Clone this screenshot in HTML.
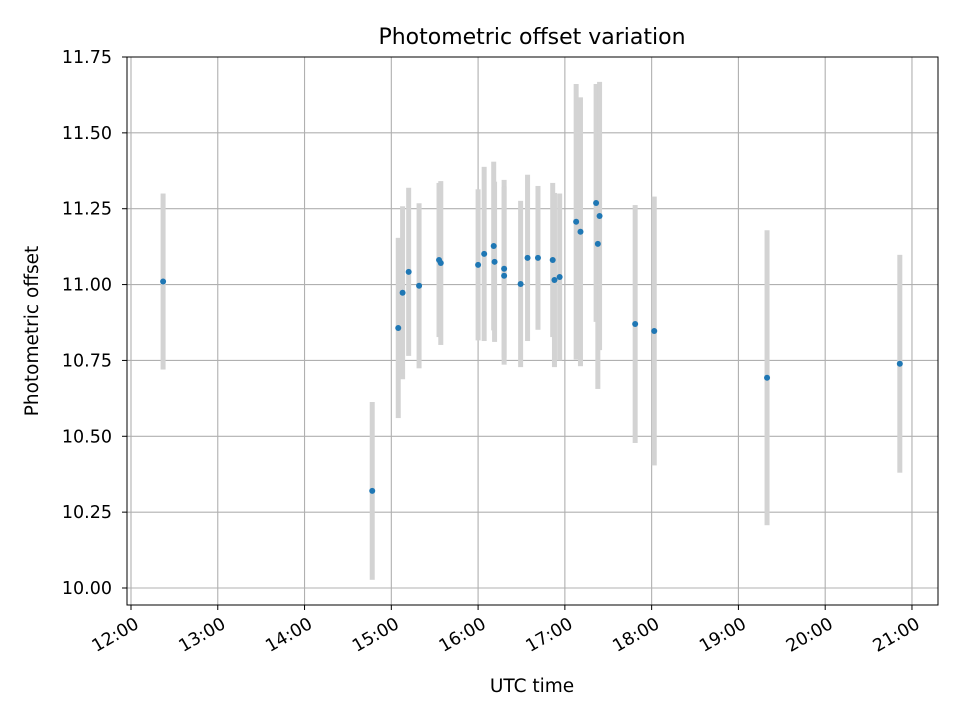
<!DOCTYPE html>
<html><head><meta charset="utf-8"><style>
body{margin:0;background:#fff;font-family:"Liberation Sans","DejaVu Sans",sans-serif}
svg text{font-family:"DejaVu Sans","Liberation Sans",sans-serif;fill:#000}
</style></head><body>
<svg id="c" width="960" height="720" xmlns="http://www.w3.org/2000/svg">
<rect width="960" height="720" fill="#fff"/>
<g id="grid"></g><g id="bars"></g><g id="pts"></g><g id="axes"></g>
<text x="532" y="44" font-size="22" text-anchor="middle">Photometric offset variation</text>
<text x="532" y="692" font-size="18.5" text-anchor="middle">UTC time</text>
<text transform="translate(38,331) rotate(-90)" font-size="18.5" text-anchor="middle">Photometric offset</text>
</svg>
<script>
const times=[12.37,14.78,15.08,15.13,15.20,15.32,15.55,15.57,16.00,16.07,16.18,16.19,16.30,16.30,16.49,16.57,16.69,16.86,16.88,16.94,17.13,17.18,17.36,17.38,17.40,17.81,18.03,19.33,20.86];
const offsets=[11.01,10.32,10.857,10.973,11.042,10.996,11.081,11.071,11.065,11.101,11.127,11.075,11.052,11.029,11.002,11.088,11.088,11.081,11.015,11.025,11.207,11.174,11.269,11.134,11.226,10.87,10.847,10.693,10.739];
const errors=[0.29,0.293,0.297,0.285,0.277,0.272,0.254,0.27,0.249,0.287,0.278,0.264,0.293,0.293,0.274,0.274,0.237,0.254,0.287,0.275,0.454,0.443,0.392,0.478,0.442,0.392,0.443,0.486,0.359];
const yTicks=[10.00,10.25,10.50,10.75,11.00,11.25,11.50,11.75];
const xTicks=[12,13,14,15,16,17,18,19,20,21];
const L=127,R=938,T=57,B=605;
const x=h=>L+(h-11.954)/(21.30-11.954)*(R-L);
const y=v=>588-(v-10)/1.75*531;
const NS='http://www.w3.org/2000/svg';
function mk(tag,parent,attrs){const e=document.createElementNS(NS,tag);for(const k in attrs)e.setAttribute(k,attrs[k]);document.getElementById(parent).appendChild(e);return e;}
yTicks.forEach(v=>{
 const l=mk('line','grid',{x1:L,x2:R,y1:y(v),y2:y(v),stroke:'#b0b0b0','stroke-width':1.1});
 
 
 const t=mk('line','axes',{x1:L-5,x2:L,y1:y(v),y2:y(v),stroke:'#000'});
 
 
 const tx=mk('text','axes',{x:L-15,y:y(v)+6,'font-size':17.5,'text-anchor':'end'});
 tx.textContent=v.toFixed(2);
 
 
});
xTicks.forEach(h=>{
 const l=mk('line','grid',{x1:x(h),x2:x(h),y1:T,y2:B,stroke:'#b0b0b0','stroke-width':1.1});
 
 
 const t=mk('line','axes',{x1:x(h),x2:x(h),y1:B,y2:B+5,stroke:'#000'});
 
 
 const tx=mk('text','axes',{transform:`translate(${x(h)+2},${B+10}) rotate(-30)`,y:14,'font-size':17.5,'text-anchor':'end'});
 tx.textContent=h+':00';
 
 
});
times.forEach((h,i)=>{
 const b=mk('rect','bars',{x:x(h)-2.5,y:y(offsets[i]+errors[i]),width:5,height:y(offsets[i]-errors[i])-y(offsets[i]+errors[i]),fill:'#d3d3d3'});
 
 
});
times.forEach((h,i)=>{
 const p=mk('circle','pts',{cx:x(h),cy:y(offsets[i]),r:3,fill:'#1f77b4'});
 
 
});
const f=mk('rect','axes',{x:L,y:T,width:R-L,height:B-T,fill:'none',stroke:'#000','stroke-width':1});


</script>
</body></html>
